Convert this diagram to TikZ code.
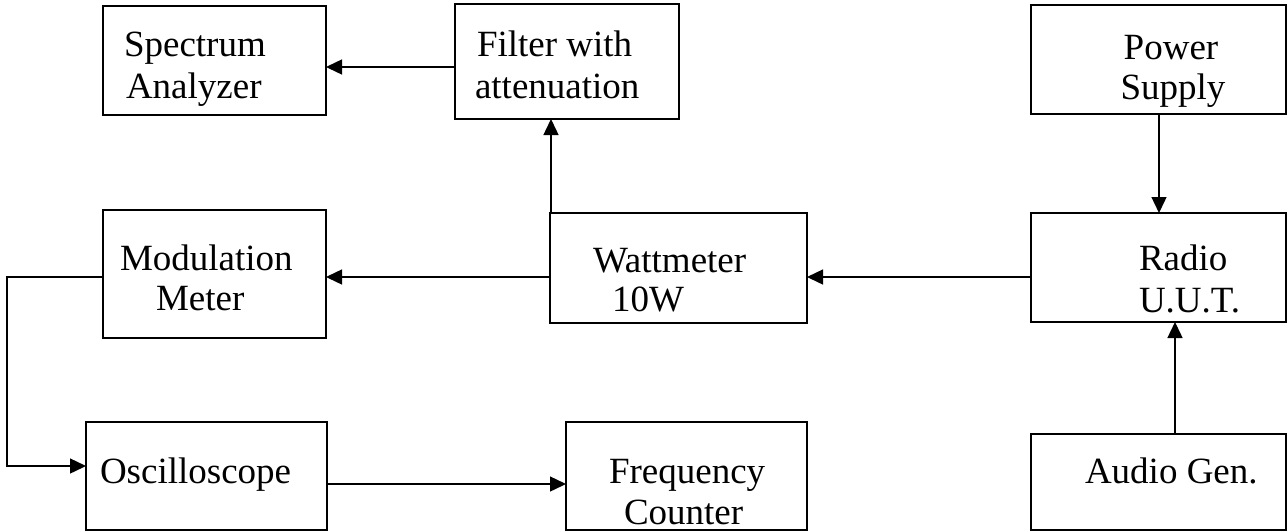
\documentclass[tikz,border=0pt]{standalone}
\usepackage{fontspec}
\setmainfont{Liberation Serif}
\usetikzlibrary{arrows.meta}
\tikzset{
  box/.style={draw, line width=1.4pt, inner sep=0pt, outer sep=0pt},
  txt/.style={inner sep=0pt, outer sep=0pt, font=\fontsize{37}{42}\selectfont},
  arr/.style={line width=1.4pt, -{Triangle[length=16pt,width=15pt]}},
  ln/.style={line width=1.4pt}
}
\begin{document}
\begin{tikzpicture}[x=1pt,y=-1pt]
\useasboundingbox (0,0) rectangle (1288,531);
% boxes
\node[box, minimum width=223pt, minimum height=109pt] (SA) at (214.5,60.5) {};
\node[box, minimum width=224pt, minimum height=115pt] (FI) at (567,61.5) {};
\node[box, minimum width=255pt, minimum height=109pt] (PS) at (1158.5,59.5) {};
\node[box, minimum width=223pt, minimum height=128pt] (MM) at (214.5,274) {};
\node[box, minimum width=257pt, minimum height=110pt] (WM) at (678.5,268) {};
\node[box, minimum width=255pt, minimum height=109pt] (RU) at (1158.5,267.5) {};
\node[box, minimum width=241pt, minimum height=108pt] (OS) at (206.5,476) {};
\node[box, minimum width=241pt, minimum height=108pt] (FC) at (686.5,476) {};
\node[box, minimum width=255pt, minimum height=96pt] (AG) at (1158.5,482) {};
% texts
\node[txt, anchor=base west] (SA1) at (124,56) {Spectrum};
\node[txt, anchor=base west] (SA2) at (126,98) {Analyzer};
\node[txt, anchor=base west] (FI1) at (477,56) {Filter with};
\node[txt, anchor=base west] (FI2) at (475,98) {attenuation};
\node[txt, anchor=base] (PS1) at (1171,59) {Power};
\node[txt, anchor=base] (PS2) at (1173,99) {Supply};
\node[txt, anchor=base west] (MM1) at (120,270) {Modulation};
\node[txt, anchor=base west] (MM2) at (156,310) {Meter};
\node[txt, anchor=base west] (WM1) at (593,272) {Wattmeter};
\node[txt, anchor=base west] (WM2) at (612,311) {10W};
\node[txt, anchor=base west] (RU1) at (1139,270) {Radio};
\node[txt, anchor=base west] (RU2) at (1139,312) {U.U.T.};
\node[txt, anchor=base west] (OS1) at (100,483) {Oscilloscope};
\node[txt, anchor=base west] (FC1) at (609,483) {Frequency};
\node[txt, anchor=base west] (FC2) at (624,524) {Counter};
\node[txt, anchor=base west] (AG1) at (1085,483) {Audio Gen.};
% connectors
\coordinate (yA) at (0,67);
\coordinate (yB) at (0,277);
\coordinate (yC) at (0,466);
\coordinate (yD) at (0,484);
\coordinate (xL) at (7,0);
\coordinate (xW) at (551,0);
\coordinate (xP) at (1159,0);
\coordinate (xU) at (1175,0);
\draw[arr] (FI.west |- yA) -- (SA.east |- yA);
\draw[arr] (WM.north -| xW) -- (FI.south -| xW);
\draw[arr] (WM.west |- yB) -- (MM.east |- yB);
\draw[arr] (RU.west |- yB) -- (WM.east |- yB);
\draw[arr] (PS.south -| xP) -- (RU.north -| xP);
\draw[arr] (AG.north -| xU) -- (RU.south -| xU);
\draw[arr] (MM.west |- yB) -- (xL |- yB) -- (xL |- yC) -- (OS.west |- yC);
\draw[arr] (OS.east |- yD) -- (FC.west |- yD);
\end{tikzpicture}
\end{document}
